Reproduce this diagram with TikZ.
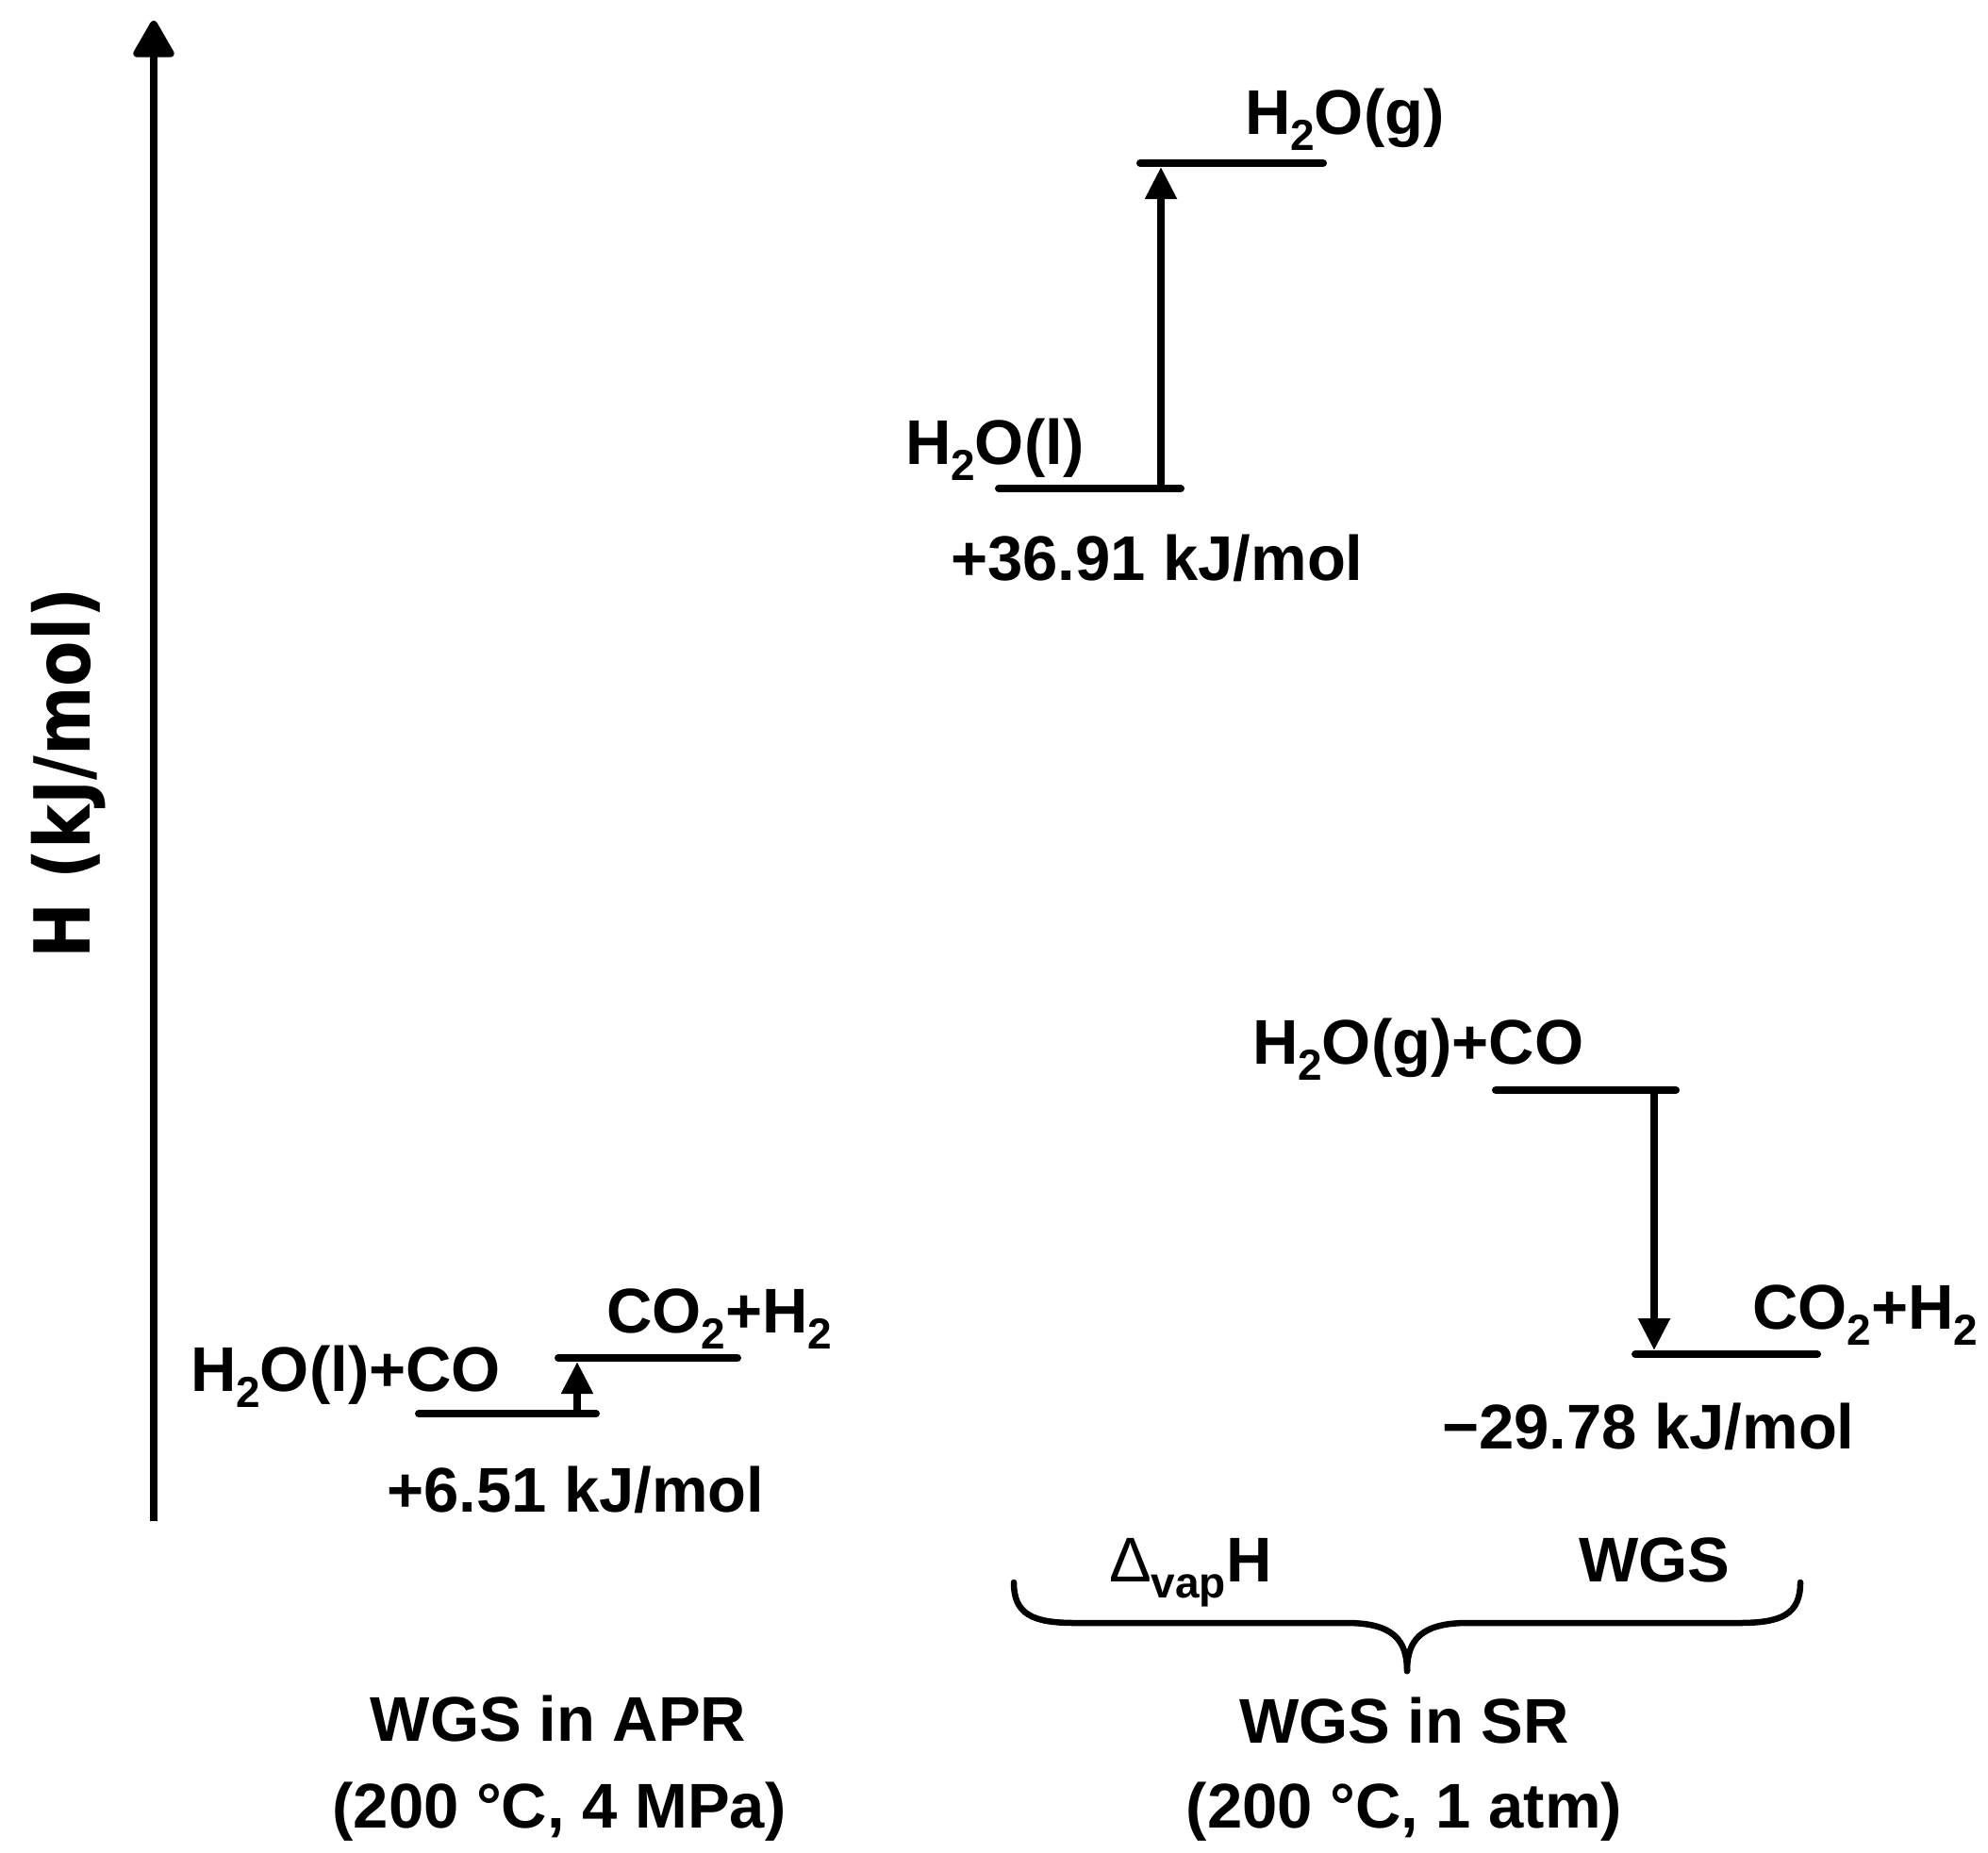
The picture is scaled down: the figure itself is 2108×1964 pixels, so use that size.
\documentclass[tikz,border=0pt]{standalone}
\usepackage{fontspec}
\setmainfont{Liberation Sans}
\newfontfamily\axisfont{DejaVu Sans}
\usetikzlibrary{arrows.meta}
\newcommand\lowsub[1]{\raisebox{-17pt}{\fontsize{46}{50}\selectfont #1}}
\begin{document}
\begin{tikzpicture}[x=1pt,y=-1pt,
  lbl/.style={inner sep=0pt,outer sep=0pt,font=\fontsize{67}{80}\selectfont\bfseries},
  level/.style={line width=8pt,line cap=round},
  jump/.style={line width=8pt,-{Triangle[width=32pt,length=34pt]}},
  axisline/.style={line width=8pt,-{Triangle[width=47pt,length=43pt,round]}},
  bracepath/.style={line width=6.5pt,line cap=round,line join=round}]
\useasboundingbox (0,0) rectangle (2108,1964);
% axis
\coordinate (ax0) at (163,1613);
\coordinate (ax1) at (163,22);
\draw[axisline] (ax0) -- (ax1);
\node[inner sep=0pt,rotate=90,anchor=base] (axl) at (95,820)
  {\scalebox{0.86}[1]{\axisfont\fontsize{82}{90}\selectfont\bfseries H (kJ/mol)}};
% SR: vaporisation
\coordinate (gL) at (1209,173); \coordinate (gR) at (1403,173);
\coordinate (lL) at (1059,518); \coordinate (lR) at (1252,518);
\draw[level] (gL) -- (gR);
\draw[level] (lL) -- (lR);
\coordinate (v0) at (1231,518); \coordinate (v1) at (1231,177);
\draw[jump] (v0) -- (v1);
\node[lbl,anchor=base west] (tg) at (1320,143) {H\lowsub{2}O(g)};
\node[lbl,anchor=base west] (tl) at (960,492) {H\lowsub{2}O(l)};
\node[lbl,anchor=base west] (e1) at (1008,615) {+36.91 kJ/mol};
% APR
\coordinate (aL) at (444,1499); \coordinate (aR) at (632,1499);
\coordinate (bL) at (592,1440); \coordinate (bR) at (782,1440);
\draw[level] (aL) -- (aR);
\draw[level] (bL) -- (bR);
\coordinate (a0) at (612,1499); \coordinate (a1) at (612,1444);
\draw[jump] (a0) -- (a1);
\node[lbl,anchor=base west] (ta) at (202,1475) {H\lowsub{2}O(l)+CO};
\node[lbl,anchor=base west] (tb) at (643,1413) {CO\lowsub{2}+H\lowsub{2}};
\node[lbl,anchor=base west] (e2) at (410,1603) {+6.51 kJ/mol};
% SR: WGS
\coordinate (cL) at (1586,1156); \coordinate (cR) at (1777,1156);
\coordinate (dL) at (1734,1436); \coordinate (dR) at (1927,1436);
\draw[level] (cL) -- (cR);
\draw[level] (dL) -- (dR);
\coordinate (w0) at (1754,1156); \coordinate (w1) at (1754,1432);
\draw[jump] (w0) -- (w1);
\node[lbl,anchor=base west] (tc) at (1328,1128) {H\lowsub{2}O(g)+CO};
\node[lbl,anchor=base west] (td) at (1858,1409) {CO\lowsub{2}+H\lowsub{2}};
\node[lbl,anchor=base west] (e3) at (1529,1536) {−29.78 kJ/mol};
% brace
\node[lbl,anchor=base west] (dv) at (1176,1677) {{\mdseries Δ}\lowsub{vap}H};
\node[lbl,anchor=base west] (wg) at (1674,1677) {WGS};
\coordinate (brL) at (1075,1678); \coordinate (brR) at (1909,1678);
\coordinate (brT) at (1492,1772);
\draw[bracepath] (brL) .. controls (1075,1712) and (1095,1721) .. (1140,1721)
  -- (1428,1721) .. controls (1478,1721) and (1492,1740) .. (brT);
\draw[bracepath] (brR) .. controls (1909,1712) and (1889,1721) .. (1844,1721)
  -- (1556,1721) .. controls (1506,1721) and (1492,1740) .. (brT);
% captions
\node[lbl,anchor=base] (c1) at (592,1846) {WGS in APR};
\node[lbl,anchor=base] (c2) at (593,1938) {(200 °C, 4 MPa)};
\node[lbl,anchor=base] (c3) at (1489,1848) {WGS in SR};
\node[lbl,anchor=base] (c4) at (1489,1938) {(200 °C, 1 atm)};
\end{tikzpicture}
\end{document}
